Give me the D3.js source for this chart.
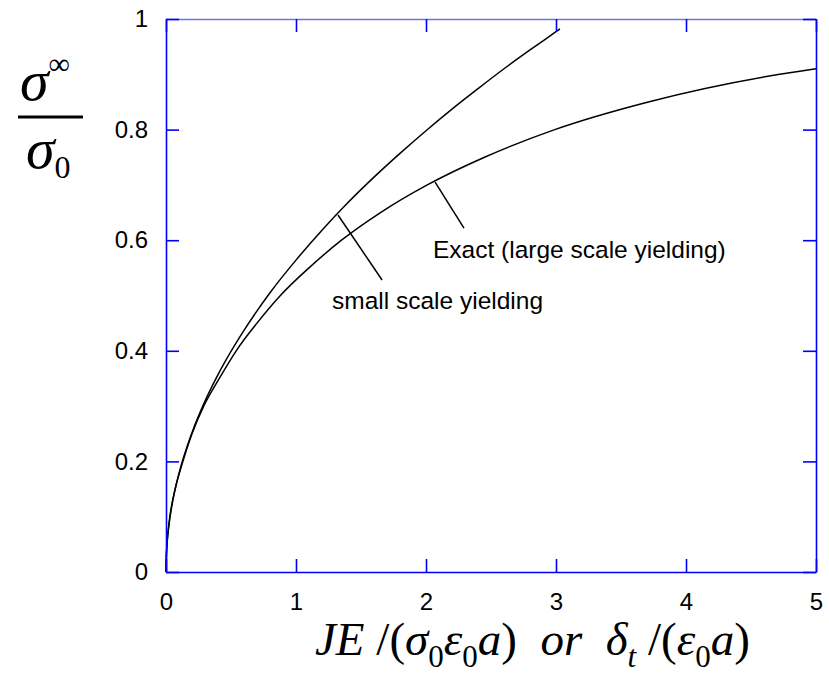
<!DOCTYPE html>
<html><head><meta charset="utf-8">
<script src="https://cdn.jsdelivr.net/npm/d3@7"></script>
<style>body{margin:0;background:#fff}svg{display:block}</style>
</head><body>
<svg id="c" width="829" height="679"></svg>
<script>
// Exact (large scale yielding) curve readings: x, sigma/sigma0
const exactX = [0, 0.001, 0.008, 0.03, 0.07, 0.13, 0.20, 0.29, 0.41, 0.54, 0.70, 0.88, 1.10, 1.35, 1.65, 2.01, 2.45, 2.99, 3.71, 4.72, 5.0];
const exactY = [0, 0.02, 0.05, 0.10, 0.15, 0.20, 0.25, 0.30, 0.35, 0.40, 0.45, 0.50, 0.55, 0.60, 0.65, 0.70, 0.75, 0.80, 0.85, 0.90, 0.91];
// Small scale yielding curve readings
const ssyX = [0, 0.005, 0.02, 0.05, 0.1, 0.2, 0.3, 0.4, 0.5, 0.6, 0.8, 1.0, 1.2, 1.4, 1.6, 1.8, 2.0, 2.2, 2.4, 2.6, 2.8, 3.0, 3.03];
const ssyY = [0, 0.040, 0.080, 0.126, 0.178, 0.252, 0.309, 0.357, 0.399, 0.437, 0.505, 0.564, 0.618, 0.668, 0.714, 0.757, 0.798, 0.837, 0.874, 0.910, 0.944, 0.977, 0.982];
const xTicks = [0, 1, 2, 3, 4, 5];
const yTicks = [0, 0.2, 0.4, 0.6, 0.8, 1];
const yTickLabels = ["0", "0.2", "0.4", "0.6", "0.8", "1"];
// annotations: leader from (x1,y1) on curve to (x2,y2); text at (tx,ty)
const annLabels = ["Exact (large scale yielding)", "small scale yielding"];
const annLeader = [[2.07, 0.705, 2.292, 0.622], [1.323, 0.6456, 1.662, 0.528]];
const annText = [[2.054, 0.568], [1.277, 0.476]];

const svg = d3.select("#c");
const L = 166, R = 816, T = 19, B = 572;
const x = d3.scaleLinear().domain([0, 5]).range([L, R]);
const y = d3.scaleLinear().domain([0, 1]).range([B, T]);
const blue = "#0000ff";
const tickLen = 13;

// curves
const line = d3.line().x(d => x(d[0])).y(d => y(d[1])).curve(d3.curveMonotoneX);
svg.append("path").datum(exactX.map((v, i) => [v, exactY[i]]))
  .attr("d", line).attr("fill", "none").attr("stroke", "#000").attr("stroke-width", 1.5);
svg.append("path").datum(ssyX.map((v, i) => [v, ssyY[i]]))
  .attr("d", line).attr("fill", "none").attr("stroke", "#000").attr("stroke-width", 1.5);

// axes with inward ticks on all sides
const gB = svg.append("g").attr("transform", `translate(0,${B})`)
  .call(d3.axisBottom(x).tickValues(xTicks).tickSizeInner(-tickLen).tickSizeOuter(0).tickPadding(28).tickFormat(d3.format("d")));
const gT = svg.append("g").attr("transform", `translate(0,${T})`)
  .call(d3.axisTop(x).tickValues(xTicks).tickSizeInner(-tickLen).tickSizeOuter(0).tickFormat(""));
const gL = svg.append("g").attr("transform", `translate(${L},0)`)
  .call(d3.axisLeft(y).tickValues(yTicks).tickSizeInner(-tickLen).tickSizeOuter(0).tickPadding(18).tickFormat((d, i) => yTickLabels[i]));
const gR = svg.append("g").attr("transform", `translate(${R},0)`)
  .call(d3.axisRight(y).tickValues(yTicks).tickSizeInner(-tickLen).tickSizeOuter(0).tickFormat(""));
[gB, gT, gL, gR].forEach(g => {
  g.selectAll(".domain").attr("stroke", blue).attr("stroke-width", 1.6);
  g.selectAll(".tick line").attr("stroke", blue).attr("stroke-width", 1.6);
  g.selectAll("text").attr("fill", "#000").attr("font-family", "Liberation Sans, Arial, sans-serif").attr("font-size", 24);
});
gT.select(".domain").attr("stroke", "#7070f0");
gB.selectAll(".tick text").attr("dy", null).attr("y", 38);

// annotations
annLeader.forEach(a => {
  svg.append("line").attr("x1", x(a[0])).attr("y1", y(a[1])).attr("x2", x(a[2])).attr("y2", y(a[3]))
    .attr("stroke", "#000").attr("stroke-width", 1.5);
});
annText.forEach((t, i) => {
  svg.append("text").attr("x", x(t[0])).attr("y", y(t[1])).text(annLabels[i])
    .attr("font-family", "Liberation Sans, Arial, sans-serif").attr("font-size", 24.5).attr("fill", "#000");
});

// x axis title
const xt = svg.append("text").attr("x", 315).attr("y", 655)
  .attr("font-family", "Liberation Serif, Times New Roman, serif").attr("font-size", 47).attr("fill", "#000");
const parts = [
  ["JE", "italic", 0], [" /(", "normal", 0], ["σ", "italic", 0], ["0", "normal", 1], ["ε", "italic", 0], ["0", "normal", 1],
  ["a", "italic", 0], [")", "normal", 0], ["\u00a0 or \u00a0", "italic", 0], ["δ", "italic", 0], ["t", "italic", 1],
  [" /(", "normal", 0], ["ε", "italic", 0], ["0", "normal", 1], ["a", "italic", 0], [")", "normal", 0]
];
let prevSub = 0;
parts.forEach(p => {
  const ts = xt.append("tspan").text(p[0]).attr("font-style", p[1]);
  if (p[2] !== prevSub) ts.attr("dy", p[2] ? 12 : -12);
  if (p[2]) ts.attr("font-size", 31);
  prevSub = p[2];
});

// y axis title: sigma^inf / sigma_0
const yf = svg.append("g").attr("font-family", "Liberation Serif, Times New Roman, serif").attr("fill", "#000");
const num = yf.append("text").attr("x", 20).attr("y", 100).attr("font-size", 58);
num.append("tspan").text("σ").attr("font-style", "italic");
num.append("tspan").text("∞").attr("font-size", 30).attr("dy", -26);
yf.append("line").attr("x1", 18).attr("x2", 83).attr("y1", 117).attr("y2", 117).attr("stroke", "#000").attr("stroke-width", 3);
const den = yf.append("text").attr("x", 26).attr("y", 168).attr("font-size", 58);
den.append("tspan").text("σ").attr("font-style", "italic");
den.append("tspan").text("0").attr("font-size", 32).attr("dy", 10);
</script>
</body></html>
